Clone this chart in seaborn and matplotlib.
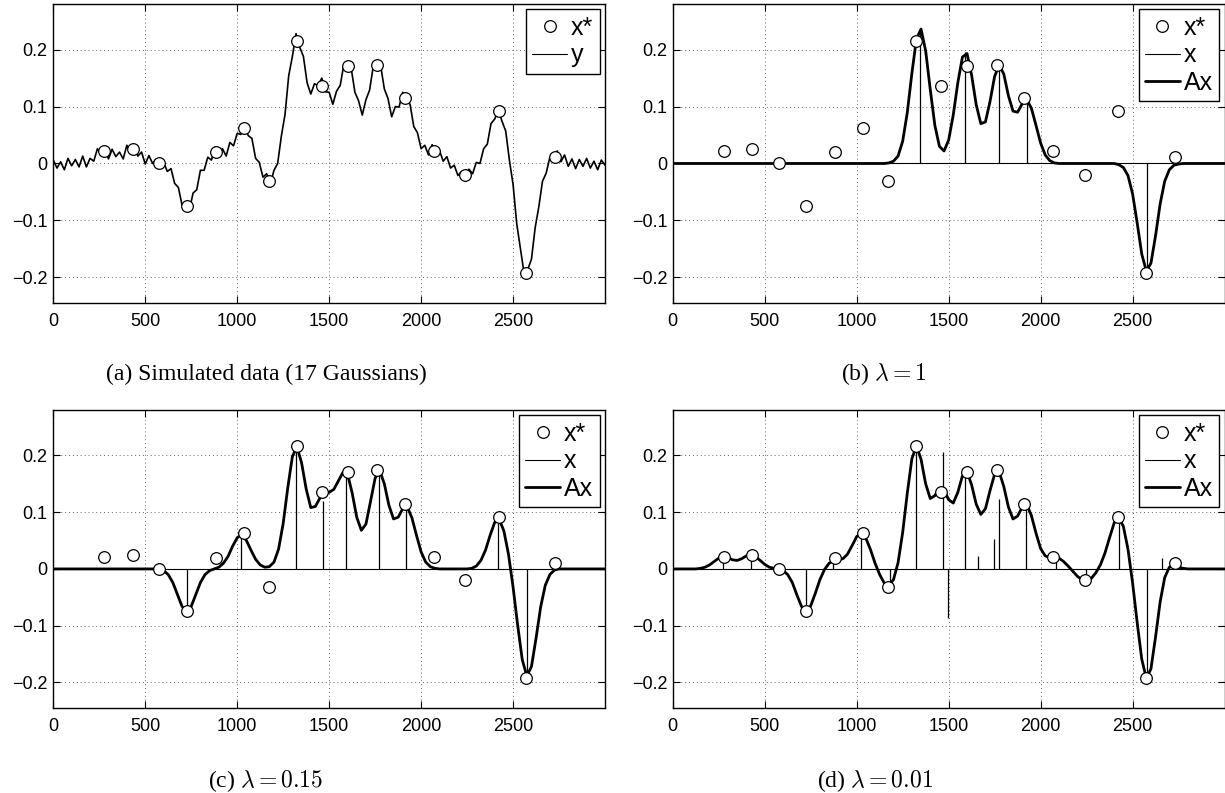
import numpy as np
import pandas as pd
import matplotlib
matplotlib.use('Agg')
import matplotlib.pyplot as plt
from matplotlib.lines import Line2D
import seaborn as sns

# true sparse signal x* (17 Gaussians): positions and amplitudes
xstar_pos = [277, 431, 575, 727, 884, 1035, 1171, 1323, 1459, 1600, 1761, 1911, 2069, 2239, 2422, 2571, 2730]
xstar_val = [0.0216, 0.0246, 0.0, -0.075, 0.0193, 0.0625, -0.031, 0.2158, 0.1356, 0.1707,
             0.1737, 0.115, 0.0216, -0.020, 0.0917, -0.193, 0.011]

# (a) noisy measurement y, read every 20 samples
y_grid = np.arange(0, 3001, 20)
y_noisy = [0.006, -0.008, 0.003, -0.011, 0.009, -0.004, 0.007, -0.006, 0.013, -0.006,
           0.009, 0.004, 0.026, 0.016, 0.026, 0.008, 0.025, 0.012, 0.020, 0.008,
           0.032, 0.018, 0.027, 0.013, 0.020, -0.001, 0.014, 0.000, 0.008, -0.008,
           0.002, -0.014, -0.009, -0.035, -0.042, -0.073, -0.070, -0.082, -0.052, -0.046,
           -0.012, -0.012, 0.011, 0.006, 0.029, 0.016, 0.026, 0.013, 0.037, 0.031,
           0.053, 0.051, 0.067, 0.049, 0.044, 0.009, 0.002, -0.024, -0.018, -0.036,
           -0.012, 0.000, 0.048, 0.086, 0.154, 0.188, 0.228, 0.204, 0.188, 0.142,
           0.122, 0.140, 0.137, 0.150, 0.126, 0.125, 0.104, 0.127, 0.137, 0.174,
           0.168, 0.167, 0.125, 0.110, 0.085, 0.112, 0.129, 0.171, 0.172, 0.172,
           0.131, 0.114, 0.082, 0.100, 0.099, 0.125, 0.110, 0.104, 0.065, 0.054,
           0.026, 0.032, 0.015, 0.033, 0.016, 0.023, 0.004, 0.012, -0.008, -0.003,
           -0.021, -0.014, -0.029, -0.010, -0.018, 0.002, 0.000, 0.026, 0.034, 0.070,
           0.078, 0.094, 0.074, 0.057, 0.006, -0.037, -0.106, -0.150, -0.193, -0.186,
           -0.168, -0.113, -0.076, -0.031, -0.017, 0.011, 0.004, 0.022, 0.003, 0.015,
           -0.005, 0.008, -0.009, 0.007, -0.005, 0.009, -0.008, 0.004, -0.011, 0.006,
           -0.003]

# Ax curves read every 25 samples
ax_grid = np.arange(0, 3001, 25)

# (b) lambda = 1
b_spike_pos = [1345, 1590, 1775, 1925, 2580]
b_spike_val = [0.237, 0.196, 0.172, 0.110, -0.190]
b_fit = ([0.0] * 46 +
         [0.000, 0.001, 0.004, 0.013, 0.039, 0.089, 0.158, 0.219, 0.236, 0.198,
          0.130, 0.067, 0.030, 0.022, 0.041, 0.085, 0.142, 0.187, 0.193, 0.155,
          0.103, 0.070, 0.073, 0.109, 0.153, 0.173, 0.157, 0.119, 0.092, 0.090,
          0.105, 0.112, 0.097, 0.067, 0.036, 0.015, 0.005, 0.001, 0.000] +
         [0.0] * 11 +
         [0.000, -0.002, -0.007, -0.021, -0.053, -0.104, -0.159, -0.189, -0.175, -0.127,
          -0.071, -0.031, -0.011, -0.003, -0.001, 0.000] +
         [0.0] * 9)

# (c) lambda = 0.15
c_spike_pos = [725, 1020, 1320, 1465, 1590, 1770, 1920, 2420, 2578]
c_spike_val = [-0.075, 0.060, 0.214, 0.120, 0.167, 0.172, 0.108, 0.089, -0.190]
c_fit = ([0.0] * 22 +
         [0.000, -0.001, -0.003, -0.010, -0.024, -0.045, -0.066, -0.075, -0.066, -0.045,
          -0.024, -0.010, -0.003, 0.000, 0.003, 0.010, 0.022, 0.040, 0.055, 0.060,
          0.050, 0.033, 0.017, 0.007, 0.003, 0.004, 0.012, 0.035, 0.080, 0.143,
          0.198, 0.215, 0.187, 0.141, 0.108, 0.110, 0.125, 0.133, 0.135, 0.140,
          0.155, 0.170, 0.167, 0.134, 0.091, 0.068, 0.079, 0.119, 0.160, 0.173,
          0.150, 0.112, 0.088, 0.091, 0.106, 0.109, 0.090, 0.059, 0.030, 0.012,
          0.004, 0.001, 0.000] +
         [0.0] * 5 +
         [0.000, 0.001, 0.005, 0.015, 0.033, 0.059, 0.082, 0.087, 0.067, 0.026,
          -0.032, -0.099, -0.160, -0.189, -0.172, -0.122, -0.067, -0.029, -0.010, -0.002,
          0.000] +
         [0.0] * 10)

# (d) lambda = 0.01
d_spike_pos = [275, 424, 725, 873, 1024, 1179, 1322, 1471, 1495, 1589,
               1661, 1746, 1775, 1920, 2083, 2245, 2425, 2581, 2661]
d_spike_val = [0.021, 0.025, -0.075, 0.015, 0.063, -0.033, 0.215, 0.206, -0.087, 0.165,
               0.023, 0.053, 0.123, 0.112, 0.020, -0.021, 0.092, -0.200, 0.020]
d_fit = ([0.0] * 4 +
         [0.000, 0.000, 0.001, 0.003, 0.007, 0.013, 0.019, 0.021, 0.020, 0.016,
          0.015, 0.018, 0.023, 0.025, 0.022, 0.015, 0.008, 0.003, 0.001, -0.001,
          -0.003, -0.010, -0.024, -0.046, -0.066, -0.075, -0.065, -0.043, -0.019, -0.001,
          0.010, 0.015, 0.016, 0.018, 0.026, 0.041, 0.057, 0.063, 0.054, 0.034,
          0.010, -0.010, -0.025, -0.029, -0.019, 0.011, 0.064, 0.133, 0.194, 0.217,
          0.193, 0.150, 0.124, 0.129, 0.142, 0.139, 0.122, 0.116, 0.135, 0.164,
          0.171, 0.148, 0.114, 0.096, 0.106, 0.138, 0.167, 0.171, 0.145, 0.109,
          0.088, 0.093, 0.109, 0.113, 0.094, 0.063, 0.036, 0.023, 0.020, 0.021,
          0.019, 0.013, 0.005, -0.004, -0.013, -0.019, -0.021, -0.017, -0.007, 0.007,
          0.028, 0.055, 0.081, 0.090, 0.075, 0.035, -0.024, -0.094, -0.159, -0.193,
          -0.176, -0.120, -0.058, -0.015, 0.003, 0.006, 0.003, 0.001, 0.000] +
         [0.0] * 8)

captions = ['(a) Simulated data (17 Gaussians)', r'(b) $\lambda = 1$',
            r'(c) $\lambda = 0.15$', r'(d) $\lambda = 0.01$']

xticks = [0, 500, 1000, 1500, 2000, 2500]
yticks = [-0.2, -0.1, 0, 0.1, 0.2]
ylabels = ['\u22120.2', '\u22120.1', '0', '0.1', '0.2']

sns.set_style('ticks', rc={'xtick.direction': 'in', 'ytick.direction': 'in',
                           'axes.edgecolor': 'black', 'text.color': 'black',
                           'xtick.color': 'black', 'ytick.color': 'black'})
plt.rcParams['font.family'] = ['Liberation Sans', 'DejaVu Sans']
plt.rcParams['mathtext.fontset'] = 'cm'

fig = plt.figure(figsize=(12.25, 7.93), dpi=100)
ax_a = fig.add_axes([0.0435, 0.6179, 0.4504, 0.3770])
ax_b = fig.add_axes([0.5492, 0.6179, 0.4504, 0.3770])
ax_c = fig.add_axes([0.0435, 0.1072, 0.4504, 0.3758])
ax_d = fig.add_axes([0.5492, 0.1072, 0.4504, 0.3758])

MS = 8.4
h_star = Line2D([], [], marker='o', ls='none', mfc='white', mec='black', ms=MS, mew=0.9)
h_thin = Line2D([], [], color='black', lw=0.8)
h_thick = Line2D([], [], color='black', lw=2.0)


def style(ax):
    ax.set_xlim(0, 3000)
    ax.set_ylim(-0.245, 0.28)
    ax.set_xticks(xticks)
    ax.set_xticklabels([str(t) for t in xticks])
    ax.set_yticks(yticks)
    ax.set_yticklabels(ylabels)
    ax.tick_params(direction='in', length=5, width=0.8, top=True, right=True,
                   labelsize=13, colors='black')
    ax.tick_params(axis='x', pad=7)
    ax.tick_params(axis='y', pad=4)
    ax.grid(True, ls=(0, (1, 3)), color='0.4', lw=0.7)
    ax.set_axisbelow(True)
    for s in ax.spines.values():
        s.set_visible(True)
        s.set_color('black')
        s.set_linewidth(1.0)
    ax.set_xlabel('')
    ax.set_ylabel('')


def add_legend(ax, handles, labels):
    leg = ax.legend(handles, labels, loc='upper right', bbox_to_anchor=(0.99, 0.982),
                    borderaxespad=0, fontsize=18, frameon=True, fancybox=False,
                    edgecolor='black', framealpha=1, handlelength=1.4,
                    handletextpad=0.15, labelspacing=0.15, borderpad=0.25)
    leg.get_frame().set_linewidth(1.0)


def draw_stars(ax):
    sns.scatterplot(x=xstar_pos, y=xstar_val, ax=ax, marker='o', s=MS ** 2,
                    facecolor='white', edgecolor='black', linewidth=0.9, zorder=6)


# (a) measurement
sns.lineplot(x=y_grid, y=y_noisy, ax=ax_a, color='black', lw=1.2)
draw_stars(ax_a)
style(ax_a)
add_legend(ax_a, [h_star, h_thin], ['x*', 'y'])

# (b)-(d) estimates
for ax, pos, val, fit in [(ax_b, b_spike_pos, b_spike_val, b_fit),
                          (ax_c, c_spike_pos, c_spike_val, c_fit),
                          (ax_d, d_spike_pos, d_spike_val, d_fit)]:
    ax.axhline(0, color='black', lw=0.8)
    ax.vlines(pos, 0, val, color='black', lw=0.9, zorder=3)
    sns.lineplot(x=ax_grid, y=fit, ax=ax, color='black', lw=2.0, zorder=4)
    draw_stars(ax)
    style(ax)
    add_legend(ax, [h_star, h_thin, h_thick], ['x*', 'x', 'Ax'])

cap_pos = [(0.2177, 0.5205), (0.7217, 0.5205), (0.2170, 0.008), (0.7140, 0.008)]
for (cx, cy), txt in zip(cap_pos, captions):
    fig.text(cx, cy, txt, ha='center', va='baseline', fontsize=17,
             family=['Liberation Serif', 'DejaVu Serif'])

fig.savefig('out.png', dpi=100)
